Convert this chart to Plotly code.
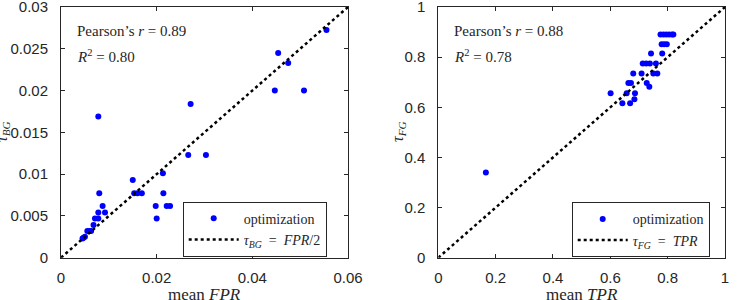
import plotly.graph_objects as go

# ---- data ----
fpr = [0.0555, 0.0454, 0.0475, 0.0447, 0.0508, 0.0271, 0.0078, 0.0266, 0.0303,
       0.0213, 0.0150, 0.0153, 0.0160, 0.0169, 0.0080, 0.0214, 0.0198, 0.0221,
       0.0228, 0.0200, 0.0087, 0.0078, 0.0092, 0.0071, 0.0078, 0.0068, 0.0055,
       0.0063, 0.0047, 0.0050, 0.0059, 0.0045]
tau_bg = [0.02725, 0.0245, 0.0233, 0.0200, 0.0200, 0.0184, 0.0169, 0.0123, 0.0123,
          0.0101, 0.0093, 0.0077, 0.0077, 0.0077, 0.0077, 0.0077, 0.0062, 0.0062,
          0.0062, 0.0047, 0.0062, 0.0054, 0.0054, 0.0047, 0.0047, 0.0039, 0.0032,
          0.0032, 0.0024, 0.0025, 0.0032, 0.0023]

tpr = [0.166, 0.775, 0.785, 0.795, 0.805, 0.815, 0.820, 0.779, 0.788, 0.797,
       0.742, 0.781, 0.713, 0.725, 0.738, 0.759, 0.680, 0.709, 0.750, 0.764,
       0.663, 0.672, 0.727, 0.736, 0.601, 0.657, 0.686, 0.642, 0.669, 0.684]
tau_fg = [0.34, 0.89, 0.89, 0.89, 0.89, 0.89, 0.89, 0.851, 0.851, 0.851,
          0.815, 0.815, 0.775, 0.775, 0.775, 0.775, 0.735, 0.735, 0.735, 0.735,
          0.697, 0.697, 0.697, 0.682, 0.656, 0.656, 0.656, 0.616, 0.616, 0.632]

ref_bg_x = [0, 0.06]
ref_bg_y = [0, 0.03]
ref_fg_x = [0, 1]
ref_fg_y = [0, 1]

x1_ticks = [0, 0.02, 0.04, 0.06]
x1_text = ["0", "0.02", "0.04", "0.06"]
y1_ticks = [0, 0.005, 0.01, 0.015, 0.02, 0.025, 0.03]
y1_text = ["0", "0.005", "0.01", "0.015", "0.02", "0.025", "0.03"]
x2_ticks = [0, 0.2, 0.4, 0.6, 0.8, 1]
x2_text = ["0", "0.2", "0.4", "0.6", "0.8", "1"]
y2_ticks = x2_ticks
y2_text = x2_text

stats_left = ["Pearson’s <i>r</i> = 0.89", "<i>R</i><sup>2</sup> = 0.80"]
stats_right = ["Pearson’s <i>r</i> = 0.88", "<i>R</i><sup>2</sup> = 0.78"]

# ---- figure ----
W, H = 739, 300
SANS = "'Liberation Sans', Arial, Helvetica, sans-serif"
SERIF = "'Liberation Serif', 'Times New Roman', serif"
TXT = "#262626"
BLUE = "#0000ff"

fig = go.Figure()
fig.add_trace(go.Scatter(x=fpr, y=tau_bg, mode="markers", name="optimization",
                         marker=dict(color=BLUE, size=6), xaxis="x", yaxis="y",
                         legend="legend"))
fig.add_trace(go.Scatter(x=ref_bg_x, y=ref_bg_y, mode="lines",
                         name="<i>τ<sub>BG</sub></i>&nbsp; = &nbsp;<i>FPR</i>/2",
                         line=dict(color="black", width=2.5, dash="3px,3px"),
                         xaxis="x", yaxis="y", legend="legend"))
fig.add_trace(go.Scatter(x=tpr, y=tau_fg, mode="markers", name="optimization",
                         marker=dict(color=BLUE, size=6), xaxis="x2", yaxis="y2",
                         legend="legend2"))
fig.add_trace(go.Scatter(x=ref_fg_x, y=ref_fg_y, mode="lines",
                         name="<i>τ<sub>FG</sub></i>&nbsp; = &nbsp;<i>TPR</i>",
                         line=dict(color="black", width=2.5, dash="3px,3px"),
                         xaxis="x2", yaxis="y2", legend="legend2"))


def px_x(p):
    return p / W


def px_y(p):
    return (H - p) / H


dom_y = [px_y(257.7), px_y(7)]
dom_x1 = [px_x(61), px_x(348)]
dom_x2 = [px_x(438.3), px_x(725)]

axis_common = dict(ticks="inside", ticklen=4, tickcolor=TXT, showline=True,
                   linecolor=TXT, linewidth=1, mirror="ticks", showgrid=False,
                   zeroline=False, ticklabeloverflow="allow", automargin=False,
                   tickfont=dict(family=SANS, size=15, color=TXT))

legend_common = dict(bgcolor="white", bordercolor=TXT, borderwidth=1,
                     font=dict(family=SERIF, size=14, color=TXT),
                     itemwidth=50, xanchor="left", yanchor="top",
                     tracegroupgap=0)

fig.update_layout(
    template="none",
    width=W, height=H,
    margin=dict(l=0, r=0, t=0, b=0, pad=0, autoexpand=False),
    paper_bgcolor="white", plot_bgcolor="white",
    xaxis=dict(domain=dom_x1, range=[0, 0.06], tickvals=x1_ticks, ticktext=x1_text,
               anchor="y", ticklabelstandoff=6, **axis_common),
    yaxis=dict(domain=dom_y, range=[0, 0.03], tickvals=y1_ticks, ticktext=y1_text,
               anchor="x", ticklabelstandoff=9, **axis_common),
    xaxis2=dict(domain=dom_x2, range=[0, 1], tickvals=x2_ticks, ticktext=x2_text,
                anchor="y2", ticklabelstandoff=6, **axis_common),
    yaxis2=dict(domain=dom_y, range=[0, 1], tickvals=y2_ticks, ticktext=y2_text,
                anchor="x2", ticklabelstandoff=9, **axis_common),
    legend=dict(x=px_x(182.7), y=px_y(201.7), **legend_common),
    legend2=dict(x=px_x(571.7), y=px_y(202.3), **legend_common),
    showlegend=True,
)

ann = []
for x0, lines in ((75, stats_left), (452, stats_right)):
    for yc, t in zip((31, 56), lines):
        ann.append(dict(xref="paper", yref="paper", x=px_x(x0), y=px_y(yc),
                        xanchor="left", yanchor="middle", showarrow=False, text=t,
                        font=dict(family=SERIF, size=15, color=TXT)))
for xc, t in (((61 + 348) / 2, "mean <i>FPR</i>"), ((438.3 + 725) / 2, "mean <i>TPR</i>")):
    ann.append(dict(xref="paper", yref="paper", x=px_x(xc), y=px_y(294),
                    xanchor="center", yanchor="middle", showarrow=False, text=t,
                    font=dict(family=SERIF, size=17, color=TXT)))
for xc, t in ((3, "<i>τ<sub>BG</sub></i>"), (399, "<i>τ<sub>FG</sub></i>")):
    ann.append(dict(xref="paper", yref="paper", x=px_x(xc), y=px_y(132),
                    xanchor="center", yanchor="middle", showarrow=False, text=t,
                    textangle=-90, font=dict(family=SERIF, size=16, color=TXT)))
fig.update_layout(annotations=ann)

fig.write_html("out.html")
